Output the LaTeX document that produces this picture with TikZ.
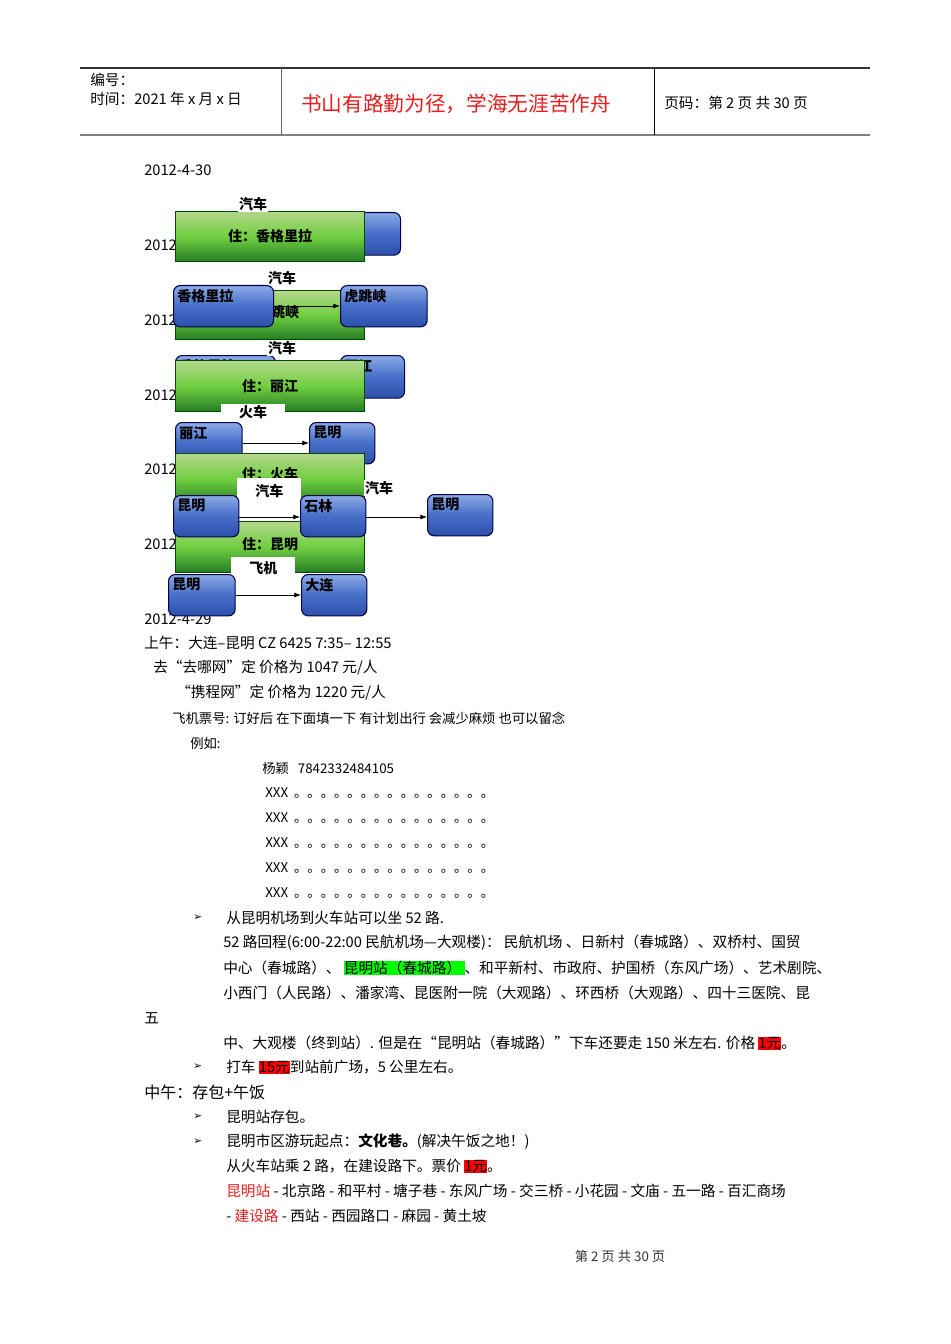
\documentclass[tikz,border=0pt]{standalone}
\usepackage{fontspec}
\setmainfont{Noto Sans CJK SC}
\newfontfamily\dv{DejaVu Sans}
\usetikzlibrary{arrows.meta}
\definecolor{hlgreen}{RGB}{0,255,0}
\definecolor{hlred}{RGB}{255,0,0}
\definecolor{txred}{RGB}{230,30,30}
\definecolor{bmid}{RGB}{70,110,200}
\definecolor{btop}{RGB}{140,170,230}
\definecolor{bbot}{RGB}{45,80,170}
\tikzset{
 tx/.style={anchor=west,inner sep=0pt,font=\fontsize{11}{13}\selectfont},
 lab/.style={inner sep=1pt,fill=white,font=\fontsize{10.5}{12}\selectfont\bfseries},
 gbar/.style={draw=green!30!black,line width=0.8pt,top color=green!30!olive!45!white,bottom color=green!40!black!85,middle color=green!50!olive!75,minimum height=38pt,minimum width=142pt,inner sep=0pt,font=\fontsize{10.5}{12}\selectfont\bfseries},
 bbox/.style={draw=blue!30!black,line width=0.8pt,rounded corners=5pt,top color=btop,bottom color=bbot,middle color=bmid,inner sep=0pt,anchor=north west},
 bt/.style={anchor=north west,inner sep=3pt,font=\fontsize{10.5}{12}\selectfont\bfseries},
 arr/.style={-{Latex[length=5pt]},line width=0.6pt}
}
\newcommand{\hl}[2]{{\fboxsep=0pt\colorbox{#1}{#2}}}
\begin{document}
\begin{tikzpicture}[x=0.75pt,y=-0.75pt]
\useasboundingbox (0,0) rectangle (950,1344);
\fill[white] (0,0) rectangle (950,1344);
% header
\draw[line width=0.8pt,black!80] (80,68) -- (870,68);
\draw[line width=1.5pt,black!50] (80,135) -- (870,135);
\draw[black!60] (281,68) -- (281,135);
\draw (654,68) -- (654,135);
\node[tx] (h1) at (90,80) {编号：};
\node[tx] (h2) at (90,99) {时间：2021 年 x 月 x 日};
\node[tx,text=txred,font=\fontsize{15.5}{17}\selectfont] (h3) at (301,104) {书山有路勤为径，学海无涯苦作舟};
\node[tx] (h4) at (664,103) {页码：第 2 页  共 30 页};
% dates
\node[tx] (d0) at (144,170) {2012-4-30};
\foreach \y/\t in {245/2012-5-1,320/2012-5-2,395/2012-5-3,469/2012-5-4,544/2012-5-5}
  \node[tx] at (144,\y) {\t};
\node[tx] (d6) at (144,619) {2012-4-29};
% row1
\node[bbox,minimum width=168pt,minimum height=32pt] (b1) at (176,212) {};
\node[gbar] (g1) at (270,236.5) {住：香格里拉};
\node[lab] (l1) at (253,204) {汽车};
% row2
\node[gbar,minimum height=37pt] (g2) at (270,315) {};
\node[font=\fontsize{10.5}{12}\selectfont\bfseries] at (285,312) {跳峡};
\node[lab,minimum width=48pt,minimum height=12pt,anchor=north] (l2) at (282,270) {汽车};
\node[bbox,minimum width=75pt,minimum height=31pt] (b21) at (173,285) {};
\node[bt] at (b21.north west) {香格里拉};
\node[bbox,minimum width=65pt,minimum height=31pt] (b22) at (340,285) {};
\node[bt] at (b22.north west) {虎跳峡};
\draw[arr] (b21.east |- 0,306) -- (b22.west |- 0,306);
% row3
\node[bbox,minimum width=75pt,minimum height=32pt] (b31) at (175,355) {};
\node[bt] at (b31.north west) {香格里拉};
\node[bbox,minimum width=48pt,minimum height=32pt] (b32) at (340,355) {};
\node[bt] at (b32.north west) {丽江};
\node[lab] (l3) at (282,348) {汽车};
\node[gbar] (g3) at (270,386) {住：丽江};
\node[lab,minimum width=48pt,anchor=north] (l4) at (253,404) {火车};
% row4
\node[bbox,minimum width=50pt,minimum height=30pt] (b41) at (175,422) {};
\node[bt] at (b41.north west) {丽江};
\node[bbox,minimum width=49pt,minimum height=31pt] (b42) at (309,422) {};
\node[bt] at (b42.north west) {昆明};
\draw[arr] (b41.east |- 0,443) -- (b42.west |- 0,443);
\node[gbar] (g4) at (270,479) {};
\node[font=\fontsize{10.5}{12}\selectfont\bfseries] at (270,474) {住：火车};
\node[lab,minimum width=48pt,minimum height=20pt,anchor=north west] (l5) at (237,478) {汽车};
\node[lab] (l6) at (379,488) {汽车};
% row5
\node[gbar] (g5) at (270,547) {};
\node[font=\fontsize{10.5}{12}\selectfont\bfseries] at (270,544) {住：昆明};
\node[bbox,minimum width=49pt,minimum height=31pt] (b51) at (173,495) {};
\node[bt] at (b51.north west) {昆明};
\node[bbox,minimum width=49pt,minimum height=31pt] (b52) at (300,495) {};
\node[bt] at (b52.north west) {石林};
\node[bbox,minimum width=49pt,minimum height=31pt] (b53) at (427,494) {};
\node[bt] at (b53.north west) {昆明};
\draw[arr] (b51.east |- 0,517) -- (b52.west |- 0,517);
\draw[arr] (b52.east |- 0,517) -- (b53.west |- 0,517);
\node[lab,minimum width=48pt,minimum height=16pt,anchor=north west] (l7) at (231,557) {飞机};
% row6
\node[bbox,minimum width=50pt,minimum height=31pt] (b61) at (168,574) {};
\node[bt] at (b61.north west) {昆明};
\node[bbox,minimum width=49pt,minimum height=31pt] (b62) at (301,574) {};
\node[bt] at (b62.north west) {大连};
\draw[arr] (b61.east |- 0,595) -- (b62.west |- 0,595);
% text body
\node[tx] (t1) at (144,643) {上午：大连–昆明 CZ 6425 7:35– 12:55};
\node[tx] (t2) at (153,668) {去“去哪网”定 价格为 1047 元/人};
\node[tx] (t3) at (176,693) {“携程网”定  价格为 1220 元/人};
\node[tx,font=\fontsize{10}{12}\selectfont] (t4) at (172,718) {飞机票号: 订好后 在下面填一下 有计划出行 会减少麻烦 也可以留念};
\node[tx,font=\fontsize{10}{12}\selectfont] (t5) at (190,743) {例如:};
\node[tx,font=\fontsize{10}{12}\selectfont] (t6) at (262,768) {杨颖 \ \ 7842332484105};
\foreach \y in {793,818,843,868,893}
  \node[tx,font=\fontsize{10}{12}\selectfont] at (265,\y) {XXX \ 。。。。。。。。。。。。。。。};
\node[tx,font=\dv\fontsize{8}{10}\selectfont] (bu1) at (193,918) {➢};
\node[tx] (t7) at (226,918) {从昆明机场到火车站可以坐 52 路.};
\node[tx] (t8) at (223,943) {52 路回程(6:00-22:00 民航机场—大观楼)：  民航机场 、日新村（春城路）、双桥村、国贸};
\node[tx] (t9) at (223,968) {中心（春城路）、 \hl{hlgreen}{昆明站（春城路） }、和平新村、市政府、护国桥（东风广场）、艺术剧院、};
\node[tx] (t10) at (223,993) {小西门（人民路）、潘家湾、昆医附一院（大观路）、环西桥（大观路）、四十三医院、昆};
\node[tx] (t11) at (144,1018) {五};
\node[tx] (t12) at (223,1043) {中、大观楼（终到站）. 但是在“昆明站（春城路）”下车还要走 150 米左右. 价格 \hl{hlred}{1元}。};
\node[tx,font=\dv\fontsize{8}{10}\selectfont] (bu2) at (193,1067) {➢};
\node[tx] (t13) at (226,1067) {打车 \hl{hlred}{15元}到站前广场，5 公里左右。};
\node[tx,font=\fontsize{12}{14}\selectfont] (t14) at (144,1092) {中午：存包+午饭};
\node[tx,font=\dv\fontsize{8}{10}\selectfont] (bu3) at (193,1117) {➢};
\node[tx] (t15) at (226,1117) {昆明站存包。};
\node[tx,font=\dv\fontsize{8}{10}\selectfont] (bu4) at (193,1142) {➢};
\node[tx] (t16) at (226,1142) {昆明市区游玩起点：\textbf{文化巷。}(解决午饭之地！)};
\node[tx] (t17) at (226,1166) {从火车站乘 2 路，在建设路下。票价 \hl{hlred}{1元}。};
\node[tx] (t18) at (226,1191) {\textcolor{txred}{昆明站} - 北京路 - 和平村 - 塘子巷 - 东风广场 - 交三桥 - 小花园 - 文庙 - 五一路 - 百汇商场};
\node[tx] (t19) at (226,1216) {- \textcolor{txred}{建设路} - 西站 - 西园路口 - 麻园 - 黄土坡};
\node[font=\fontsize{10}{12}\selectfont,text=black!80] (ft) at (620,1256) {第 2 页 共 30 页};
\end{tikzpicture}
\end{document}
